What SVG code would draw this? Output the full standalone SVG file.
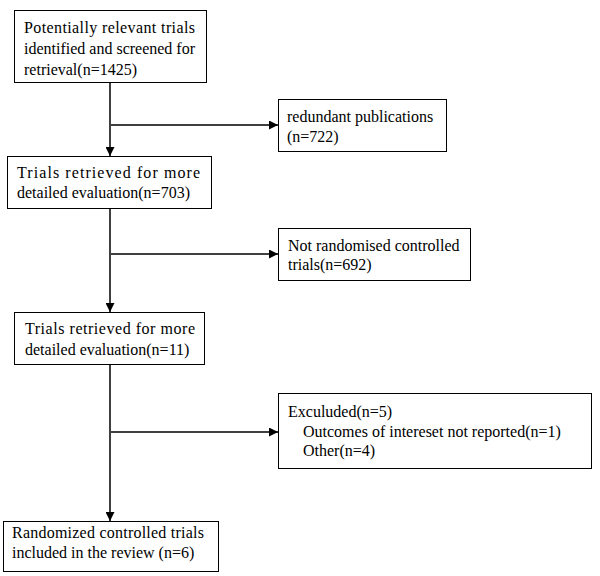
<svg xmlns="http://www.w3.org/2000/svg" width="600" height="576" viewBox="0 0 600 576">
<defs>
<style>
.box{fill:#fff;stroke:#000;stroke-width:1}
text{font-family:'Liberation Serif', 'DejaVu Serif', serif;font-size:16px;fill:#000}
.c{stroke:#404040;stroke-width:2;fill:none}
</style>
<marker id="ah" viewBox="0 0 10 10" refX="10" refY="5" markerWidth="4.5" markerHeight="4.5" orient="auto" markerUnits="strokeWidth">
<path d="M0,0 L10,5 L0,10 z" fill="#000"/>
</marker>
</defs>
<rect width="600" height="576" fill="#fff"/>
<g id="connectors">
<line class="c" x1="110" y1="82" x2="110" y2="156" marker-end="url(#ah)"/>
<line class="c" x1="110" y1="125" x2="278" y2="125" marker-end="url(#ah)"/>
<line class="c" x1="110" y1="208" x2="110" y2="312" marker-end="url(#ah)"/>
<line class="c" x1="110" y1="254" x2="278" y2="254" marker-end="url(#ah)"/>
<line class="c" x1="110" y1="364" x2="110" y2="521" marker-end="url(#ah)"/>
<line class="c" x1="110" y1="432" x2="278" y2="432" marker-end="url(#ah)"/>
</g>
<g id="n1">
<rect class="box" x="14.5" y="10.5" width="192" height="72"/>
<text x="24" y="33" textLength="171" lengthAdjust="spacing">Potentially relevant trials</text>
<text x="24" y="54" textLength="171" lengthAdjust="spacing">identified and screened for</text>
<text x="24" y="75">retrieval(n=1425)</text>
</g>
<g id="n2">
<rect class="box" x="278.5" y="99.5" width="168" height="52"/>
<text x="287" y="122">redundant publications</text>
<text x="287" y="142">(n=722)</text>
</g>
<g id="n3">
<rect class="box" x="7.5" y="156.5" width="204" height="52"/>
<text x="17" y="178" textLength="183" lengthAdjust="spacing">Trials retrieved for more</text>
<text x="17" y="198">detailed evaluation(n=703)</text>
</g>
<g id="n4">
<rect class="box" x="278.5" y="228.5" width="192" height="52"/>
<text x="288" y="251">Not randomised controlled</text>
<text x="288" y="270">trials(n=692)</text>
</g>
<g id="n5">
<rect class="box" x="14.5" y="312.5" width="190" height="52"/>
<text x="25" y="334" textLength="170" lengthAdjust="spacing">Trials retrieved for more</text>
<text x="25" y="355">detailed evaluation(n=11)</text>
</g>
<g id="n6">
<rect class="box" x="278.5" y="393.5" width="313" height="75"/>
<text x="288" y="417">Exculuded(n=5)</text>
<text x="303" y="437">Outcomes of intereset not reported(n=1)</text>
<text x="303" y="456">Other(n=4)</text>
</g>
<g id="n7">
<rect class="box" x="3.5" y="521.5" width="215" height="50"/>
<text x="12" y="538" textLength="192" lengthAdjust="spacing">Randomized controlled trials</text>
<text x="12" y="558">included in the review (n=6)</text>
</g>
</svg>
